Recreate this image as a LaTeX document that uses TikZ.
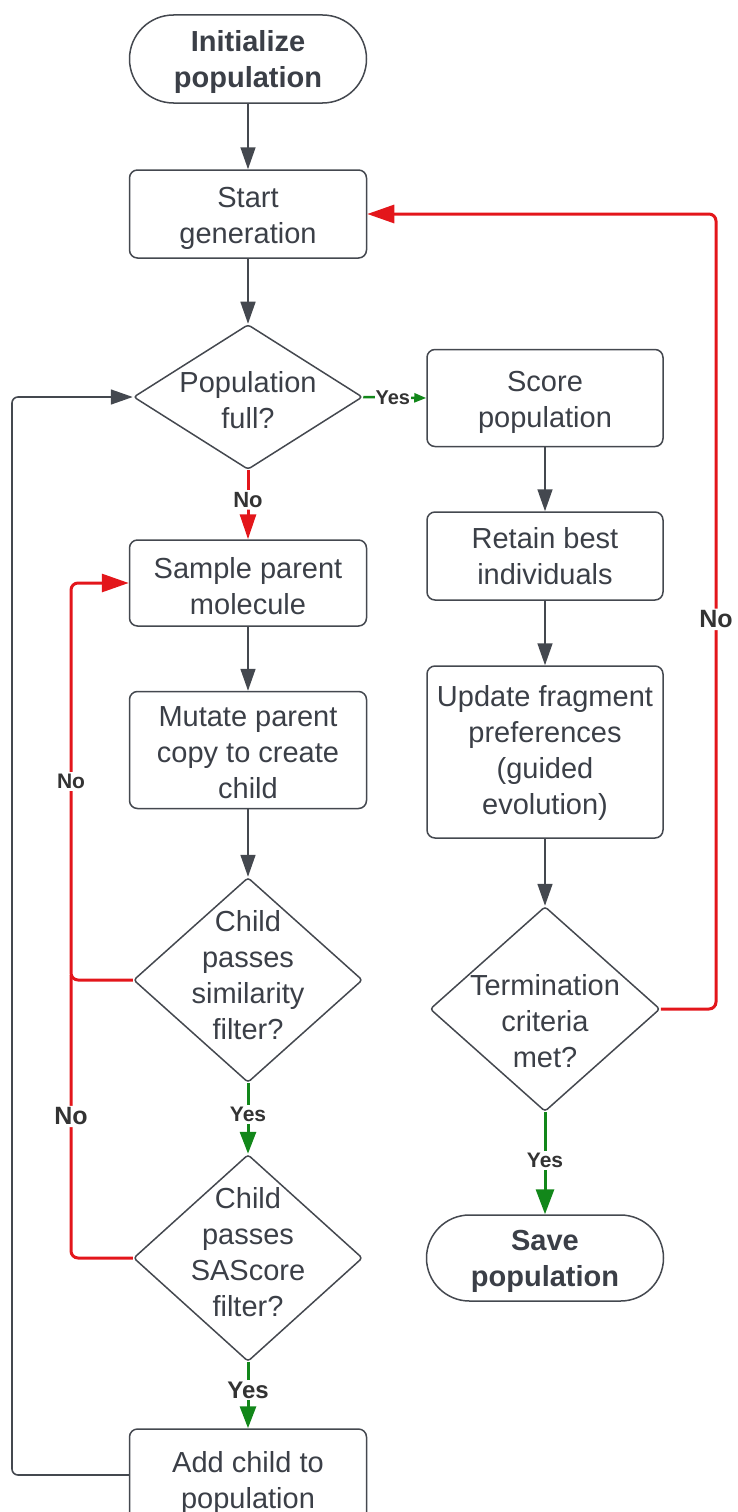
\documentclass[tikz,border=0pt]{standalone}
\usepackage{fontspec}
\setmainfont{Liberation Sans}
\usetikzlibrary{arrows.meta,shapes.geometric,shapes.misc}
\definecolor{ink}{HTML}{3B3F47}
\definecolor{labink}{HTML}{333333}
\definecolor{edge}{HTML}{44484F}
\definecolor{nored}{HTML}{E3161B}
\definecolor{yesgreen}{HTML}{12871A}
\begin{document}
\begin{tikzpicture}[x=1pt,y=-1pt,
  box/.style={draw=edge, line width=1.5pt, rounded corners=8pt, minimum width=237pt,
    inner sep=0pt},
  term/.style={draw=edge, line width=1.5pt, rounded rectangle, minimum width=237pt,
    minimum height=88pt, inner sep=0pt},
  dec/.style={draw=edge, line width=1.5pt, diamond, rounded corners=3pt, inner sep=0pt,
    minimum width=229pt},
  txt/.style={align=center, text=ink, font=\fontsize{29}{36}\selectfont, inner sep=0pt},
  bold txt/.style={txt, font=\fontsize{29}{36}\selectfont\bfseries},
  flow/.style={draw=edge, line width=1.6pt, -{Triangle[length=22pt,width=15pt]}},
  nopath/.style={draw=nored, line width=3pt, rounded corners=7pt},
  yespath/.style={draw=yesgreen, line width=3pt, -{Triangle[length=22pt,width=16pt]}},
  lab/.style={fill=white, text=labink, inner sep=2pt,
    font=\bfseries\fontsize{21}{24}\selectfont},
  biglab/.style={lab, font=\bfseries\fontsize{25}{28}\selectfont},
]
\useasboundingbox (0,0) rectangle (738,1512);

% left column: outlines
\node[term] (init) at (248,59) {};
\node[box, minimum height=88pt] (start) at (248,214) {};
\node[dec, minimum height=145pt] (pop) at (248,397) {};
\node[box, minimum height=86pt] (sample) at (248,583) {};
\node[box, minimum height=117pt] (mutate) at (248,750) {};
\node[dec, minimum height=205pt] (sim) at (248,980) {};
\node[dec, minimum height=207pt] (sas) at (248,1258) {};
\node[box, minimum height=100pt] (add) at (248,1479) {};

% left column: texts
\node[bold txt] (inittxt) at (248,62) {Initialize\\population};
\node[txt] (starttxt) at (248,218) {Start\\generation};
\node[txt] (poptxt) at (248,400) {Population\\full?};
\node[txt] (sampletxt) at (248,586) {Sample parent\\molecule};
\node[txt] (mutatetxt) at (248,753) {Mutate parent\\copy to create\\child};
\node[txt] (simtxt) at (248,975) {Child\\passes\\similarity\\filter?};
\node[txt] (sastxt) at (248,1252) {Child\\passes\\SAScore\\filter?};
\node[txt] (addtxt) at (248,1483) {Add child to\\population};

% right column: outlines
\node[box, minimum width=236pt, minimum height=97pt] (score) at (545,398) {};
\node[box, minimum width=236pt, minimum height=88pt] (retain) at (545,556) {};
\node[box, minimum width=236pt, minimum height=172pt] (update) at (545,752) {};
\node[dec, minimum width=230pt, minimum height=205pt] (termq) at (545,1009) {};
\node[term, minimum width=237pt, minimum height=86pt] (save) at (545,1258) {};

% right column: texts
\node[txt] (scoretxt) at (545,402) {Score\\population};
\node[txt] (retaintxt) at (545,556) {Retain best\\individuals};
\node[txt] (updatetxt) at (545,753) {Update fragment\\preferences\\(guided\\evolution)};
\node[txt] (termtxt) at (545,1021) {Termination\\criteria\\met?};
\node[bold txt] (savetxt) at (545,1261) {Save\\population};

% plain steps
\draw[flow] (init) -- (start);
\draw[flow] (start) -- (pop);
\draw[flow] (sample) -- (mutate);
\draw[flow] (mutate) -- (sim);
\draw[flow] (score) -- (retain);
\draw[flow] (retain) -- (update);
\draw[flow] (update) -- (termq);

% decisions: yes branches
\draw[yespath, line width=2.5pt, -{Triangle[length=12pt,width=9pt]}] (pop.east) --
  node[lab, pos=0.47, font=\bfseries\fontsize{20}{24}\selectfont, inner sep=1pt] {Yes} (score.west);
\draw[yespath] (sim.south) -- node[lab, pos=0.44] {Yes} (sas.north);
\draw[yespath] (sas.south) -- node[lab, pos=0.42, font=\bfseries\fontsize{24}{28}\selectfont] {Yes} (add.north);
\draw[yespath, -{Triangle[length=25pt,width=18pt]}] (termq.south) -- node[lab, pos=0.47] {Yes} (save.north);

% decisions: no branches
\draw[nopath, -{Triangle[length=25pt,width=16pt]}] (pop.south) --
  node[lab, pos=0.43, font=\bfseries\fontsize{22}{24}\selectfont] {No} (sample.north);
\draw[nopath, -{Triangle[length=27pt,width=18pt]}] (sim.west) -- (71,980) |-
  node[lab, pos=0.25] {No} (sample.west);
\draw[nopath] (sas.west) -- (71,1258) -- node[biglab, pos=0.5] {No} (71,975);
\draw[nopath, -{Triangle[length=27pt,width=18pt]}] (termq.east) -- (716,1009) |-
  node[biglab, pos=0.245] {No} (start.east);

% loop back to the population check
\draw[flow, rounded corners=6pt] (add.west |- 0,1475) -- (12,1475) |- (pop.west);
\end{tikzpicture}
\end{document}
